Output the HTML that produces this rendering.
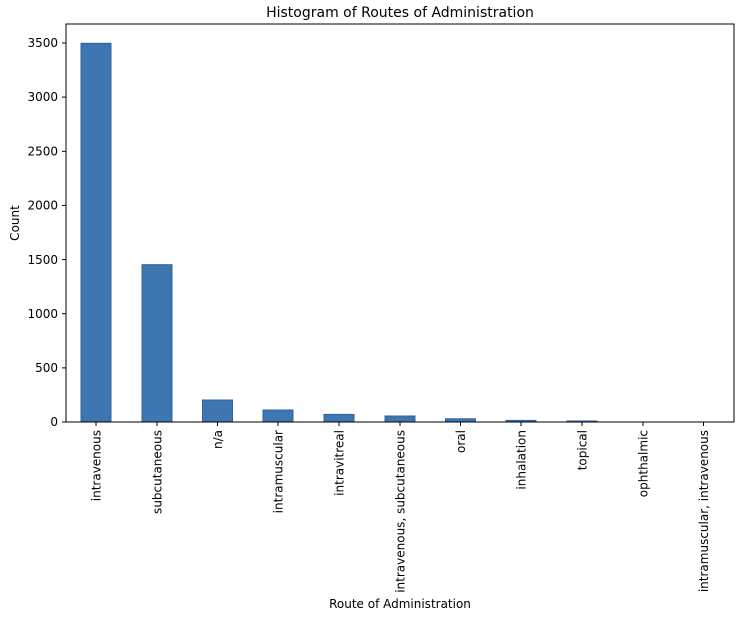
<!DOCTYPE html>
<html><head><style>body{margin:0;background:#fff}svg{display:block;font-family:"DejaVu Sans","Liberation Sans",sans-serif}</style></head>
<body>
<svg width="744" height="619" viewBox="0 0 744 619" xmlns="http://www.w3.org/2000/svg">
<rect width="744" height="619" fill="#fff"/>
<text x="400" y="17" font-size="14" text-anchor="middle">Histogram of Routes of Administration</text>
<g fill="#3d76b0" stroke="#2f649b" stroke-width="1">
<rect x="81" y="43.3" width="30" height="378.7"/>
<rect x="142" y="264.7" width="30" height="157.3"/>
<rect x="202.5" y="400" width="30" height="22"/>
<rect x="263" y="410" width="30" height="12"/>
<rect x="324" y="414.4" width="30" height="7.6"/>
<rect x="385" y="416" width="30" height="6"/>
<rect x="445.5" y="418.8" width="30" height="3.2"/>
<rect x="506" y="420.4" width="30" height="1.6"/>
<rect x="567" y="421" width="30" height="1"/>
</g>
<rect x="66" y="24" width="668" height="398" fill="none" stroke="#000" stroke-width="1"/>
<g font-size="12" text-anchor="end">
<g stroke="#000"><line x1="62" x2="66" y1="422" y2="422"/><line x1="62" x2="66" y1="367.9" y2="367.9"/><line x1="62" x2="66" y1="313.7" y2="313.7"/><line x1="62" x2="66" y1="259.6" y2="259.6"/><line x1="62" x2="66" y1="205.4" y2="205.4"/><line x1="62" x2="66" y1="151.3" y2="151.3"/><line x1="62" x2="66" y1="97.1" y2="97.1"/><line x1="62" x2="66" y1="43" y2="43"/></g>
<text x="58" y="426">0</text><text x="58" y="372">500</text><text x="58" y="318">1000</text><text x="58" y="264">1500</text><text x="58" y="209.5">2000</text><text x="58" y="155.5">2500</text><text x="58" y="101">3000</text><text x="58" y="47">3500</text>
</g>
<text transform="translate(19,223) rotate(-90)" font-size="12" text-anchor="middle">Count</text>
<g stroke="#000">
<line x1="96" x2="96" y1="422" y2="426"/><line x1="157" x2="157" y1="422" y2="426"/><line x1="217.5" x2="217.5" y1="422" y2="426"/><line x1="278" x2="278" y1="422" y2="426"/><line x1="339" x2="339" y1="422" y2="426"/><line x1="400" x2="400" y1="422" y2="426"/><line x1="460.5" x2="460.5" y1="422" y2="426"/><line x1="521" x2="521" y1="422" y2="426"/><line x1="582" x2="582" y1="422" y2="426"/><line x1="643" x2="643" y1="422" y2="426"/><line x1="703.5" x2="703.5" y1="422" y2="426"/>
</g>
<g font-size="12" text-anchor="end">
<text transform="translate(100.5,430) rotate(-90)">intravenous</text>
<text transform="translate(161.5,430) rotate(-90)">subcutaneous</text>
<text transform="translate(222,430) rotate(-90)">n/a</text>
<text transform="translate(282.5,430) rotate(-90)">intramuscular</text>
<text transform="translate(343.5,430) rotate(-90)">intravitreal</text>
<text transform="translate(404.5,430) rotate(-90)">intravenous, subcutaneous</text>
<text transform="translate(465,430) rotate(-90)">oral</text>
<text transform="translate(525.5,430) rotate(-90)">inhalation</text>
<text transform="translate(586.5,430) rotate(-90)">topical</text>
<text transform="translate(647.5,430) rotate(-90)">ophthalmic</text>
<text transform="translate(708,430) rotate(-90)">intramuscular, intravenous</text>
</g>
<text x="400" y="608" font-size="12" text-anchor="middle">Route of Administration</text>
</svg>
</body></html>
